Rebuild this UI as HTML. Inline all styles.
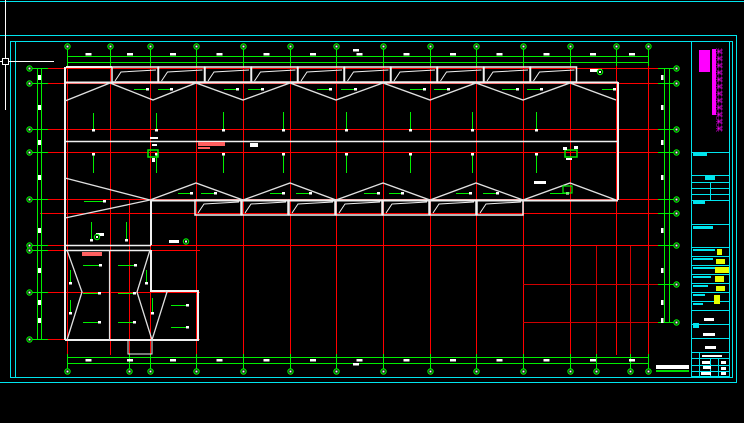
<!DOCTYPE html>
<html><head><meta charset="utf-8"><style>
html,body{margin:0;padding:0;background:#000;width:744px;height:423px;overflow:hidden}
svg{display:block}
text{font-family:"Liberation Sans","Noto Sans CJK SC",sans-serif}
</style></head><body>
<svg id="s" width="744" height="423" viewBox="0 0 744 423" xmlns="http://www.w3.org/2000/svg">
<rect width="744" height="423" fill="#000"/>
<g fill="none" stroke="#00e5ee" stroke-width="1">
<line x1="0" y1="1.5" x2="744" y2="1.5"/>
<polyline points="0,35.5 736.5,35.5 736.5,382.5 0,382.5"/>
<rect x="10.5" y="41.5" width="722" height="336"/>
<line x1="15.5" y1="41" x2="15.5" y2="378"/>
<rect x="691.5" y="41.5" width="38" height="335"/>
<line x1="692" y1="152.5" x2="729" y2="152.5"/>
<line x1="692" y1="175.5" x2="729" y2="175.5"/>
<line x1="692" y1="182.5" x2="729" y2="182.5"/>
<line x1="692" y1="188.5" x2="729" y2="188.5"/>
<line x1="692" y1="194.5" x2="729" y2="194.5"/>
<line x1="692" y1="200.5" x2="729" y2="200.5"/>
<line x1="710.5" y1="182" x2="710.5" y2="200"/>
<line x1="692" y1="224.5" x2="729" y2="224.5"/>
<line x1="692" y1="247.5" x2="729" y2="247.5"/>
<line x1="692" y1="256.5" x2="729" y2="256.5"/>
<line x1="692" y1="265.5" x2="729" y2="265.5"/>
<line x1="692" y1="274.5" x2="729" y2="274.5"/>
<line x1="692" y1="283.5" x2="729" y2="283.5"/>
<line x1="692" y1="292.5" x2="729" y2="292.5"/>
<line x1="692" y1="301.5" x2="729" y2="301.5"/>
<line x1="692" y1="310.5" x2="729" y2="310.5"/>
<line x1="692" y1="324.5" x2="729" y2="324.5"/>
<line x1="692" y1="338.5" x2="729" y2="338.5"/>
<line x1="692" y1="352.5" x2="729" y2="352.5"/>
<line x1="692" y1="358.5" x2="729" y2="358.5"/>
<line x1="692" y1="365.5" x2="729" y2="365.5"/>
<line x1="692" y1="371.5" x2="729" y2="371.5"/>
<line x1="699.5" y1="352" x2="699.5" y2="377"/>
<line x1="710.5" y1="358" x2="710.5" y2="377"/>
<line x1="718.5" y1="358" x2="718.5" y2="377"/>
</g>
<rect x="699" y="50" width="11" height="22" fill="#ff00ff"/>
<rect x="712" y="49" width="4" height="66" fill="#ff00ff"/>
<text x="0" y="0" fill="#ff00ff" font-size="7" transform="translate(717,48) rotate(90)">某某某某某某某某某某某某</text>
<g fill="#e6ff00">
<rect x="717" y="249" width="5" height="6"/><rect x="716" y="259" width="9" height="5"/>
<rect x="715" y="267" width="14" height="6"/><rect x="715" y="276" width="9" height="6"/>
<rect x="716" y="286" width="9" height="5"/><rect x="714" y="295" width="6" height="9"/>
</g>
<g fill="#00e5ee">
<rect x="693" y="153" width="14" height="3"/><rect x="705" y="176" width="10" height="4"/>
<rect x="693" y="201" width="12" height="3"/><rect x="693" y="226" width="20" height="3"/>
<rect x="693" y="249" width="22" height="2"/><rect x="693" y="258" width="20" height="2"/>
<rect x="693" y="267" width="22" height="2"/><rect x="693" y="276" width="18" height="2"/>
<rect x="693" y="285" width="15" height="2"/><rect x="693" y="294" width="12" height="2"/>
<rect x="693" y="303" width="10" height="2"/><rect x="693" y="323" width="6" height="5"/>
</g>
<g fill="#fff">
<rect x="704" y="318" width="10" height="3"/><rect x="703" y="333" width="12" height="3"/>
<rect x="705" y="346" width="11" height="3"/><rect x="702" y="355" width="20" height="2"/>
<rect x="702" y="361" width="8" height="3"/><rect x="721" y="361" width="5" height="3"/>
<rect x="703" y="366" width="8" height="3"/><rect x="721" y="367" width="5" height="3"/>
<rect x="701" y="372" width="10" height="3"/><rect x="721" y="372" width="5" height="3"/>
<rect x="656" y="365" width="33" height="4"/>
</g>
<rect x="656" y="370" width="33" height="2" fill="#00dd00"/>
<g stroke="#fff" stroke-width="1" fill="none">
<line x1="5.5" y1="0" x2="5.5" y2="110"/>
<line x1="0" y1="61.5" x2="54" y2="61.5"/>
<rect x="2.5" y="58.5" width="6" height="6" fill="#000"/>
</g>
<g id="dyn"></g>
</svg>
<script>
var g=document.getElementById('dyn'),h='';
function L(x1,y1,x2,y2,c,w){h+='<line x1="'+x1+'" y1="'+y1+'" x2="'+x2+'" y2="'+y2+'" stroke="'+c+'" stroke-width="'+(w||1)+'"/>';}
function P(pts,c,w){h+='<polyline points="'+pts+'" fill="none" stroke="'+c+'" stroke-width="'+(w||1)+'"/>';}
function R(x,y,w,hh,c){h+='<rect x="'+x+'" y="'+y+'" width="'+w+'" height="'+hh+'" fill="'+c+'"/>';}
function C(x,y){h+='<circle cx="'+x+'" cy="'+y+'" r="2.6" fill="#000" stroke="#00ee00" stroke-width="1.2"/><rect x="'+(x-1)+'" y="'+(y-1)+'" width="2" height="2" fill="#fff"/>';}
var RED='#ff0000',GR='#00ee00',WH='#f0f0f0',ZZ='#e0e0e0';
var topX=[67,110,150,196,243,290,336,383,430,476,523,570,616,648];
var botX=[67,129,150,196,243,290,336,383,430,476,523,570,596,630,648];
var rowsL=[68,83,129,152,199,245,250,292,339];
var rowsR=[68,83,129,152,199,213,245,284,322];
[67,110,150,196,243,290,336,383,430,476,523,570,616,648].forEach(function(x){L(x+.5,60,x+.5,355,RED);});
L(129.5,200,129.5,355,RED);L(596.5,245,596.5,355,'#d00000');L(630.5,245,630.5,355,'#d00000');
[68,83,129,152,199].forEach(function(y){L(40,y+.5,660,y+.5,RED);});
L(40,213.5,660,213.5,RED);L(40,245.5,660,245.5,RED);L(40,250.5,200,250.5,RED);
L(40,292.5,200,292.5,RED);L(40,339.5,200,339.5,RED);
L(523,284.5,660,284.5,'#d00000');L(523,322.5,660,322.5,'#d00000');
L(67,56.5,648,56.5,GR);L(67,62.5,648,62.5,GR);
L(67,357.5,648,357.5,GR);L(67,363.5,648,363.5,GR);
L(37.5,68,37.5,339,GR);L(41.5,68,41.5,339,GR);
L(664.5,68,664.5,322,GR);L(669.5,68,669.5,322,GR);
topX.forEach(function(x){L(x+.5,46,x+.5,66,GR);C(x+.5,46.5);});
botX.forEach(function(x){L(x+.5,354,x+.5,371,GR);C(x+.5,371.5);});
rowsL.forEach(function(y){L(29,y+.5,48,y+.5,GR);C(29.5,y+.5);});
rowsR.forEach(function(y){L(658,y+.5,676,y+.5,GR);C(676.5,y+.5);});
for(var i=0;i<topX.length-1;i++){var m=(topX[i]+topX[i+1])/2;R(m-3,53,6,2.5,'#fff');R(m-3,359,6,2.5,'#fff');}
R(353,49,6,2.5,'#fff');R(353,363,6,2.5,'#fff');
[75,105,140,175,228,268,300,318].forEach(function(y){R(38,y,3,5,'#fff');R(661,y,2.5,5,'#fff');});
var W=2;
P('66,67 112,67',WH,W);
for(var x=112;x<570;x+=46.5){h+='<rect x="'+x+'" y="67" width="46" height="15" fill="none" stroke="'+WH+'" stroke-width="1.5"/>';P((x+3)+',81 '+(x+9)+',72 '+(x+44)+',70',WH,1);}
L(65,82.5,618,82.5,WH,W);
L(65,67,65,340,WH,W);
L(618,82,618,200,WH,W);
L(65,141.5,618,141.5,WH,1.5);
L(150,200.5,618,200.5,WH,W);
for(var x=195;x<520;x+=47){h+='<rect x="'+x+'" y="200" width="46" height="15" fill="none" stroke="'+WH+'" stroke-width="1.5"/>';P((x+3)+',213 '+(x+9)+',204 '+(x+44)+',202',WH,1);}
L(151,200,151,245,WH,W);
L(65,245.5,151,245.5,WH,1.5);
L(65,250.5,151,250.5,WH,1.5);
P('151,250 151,291 198,291 198,340 65,340',WH,W);
h+='<rect x="128" y="340" width="24" height="14" fill="none" stroke="'+WH+'" stroke-width="1"/>';
var zt='65,101';
[110,153,196,243,290,336,383,430,476,523,570,616].forEach(function(x,i){zt+=' '+x+','+(i%2==0?83:100);});
P(zt,ZZ,1.3);
P('65,178 150,200 65,218',ZZ,1.3);
var zb='';[150,196,243,290,336,383,430,476,523,570,616].forEach(function(x,i){zb+=x+','+(i%2==0?200:183)+' ';});
P(zb,ZZ,1.3);
P('67,250 82,292 67,340',ZZ,1.3);P('150,250 137,292 152,340 167,292 165,291',ZZ,1.3);
L(109.5,250,109.5,340,ZZ,1.2);
[[93,113,93,130],[156,113,156,130],[223,112,223,130],[283,112,283,130],[346,112,346,130],[410,112,410,130],[472,112,472,130],[536,112,536,130],[93,155,93,173],[156,155,156,173],[223,155,223,173],[283,155,283,173],[346,155,346,173],[410,155,410,173],[472,155,472,173],[536,155,536,173],[91,222,91,240],[126,222,126,240],[70,270,70,283],[146,270,146,283],[70,300,70,313],[152,298,152,313]].forEach(function(a){L(a[0]+.5,a[1],a[2]+.5,a[3],GR,1);R(a[0]-1,(a[1]>150&&a[1]<200)?a[1]-2:a[3]-1,3,2.5,'#fff');});
[[134,89,147,89],[158,89,171,89],[224,89,237,89],[248,89,262,89],[317,89,330,89],[341,89,355,89],[410,89,424,89],[434,89,448,89],[502,89,517,89],[527,89,541,89],[602,89,614,89],[84,201,104,201],[178,193,191,193],[201,193,215,193],[270,193,283,193],[296,193,310,193],[364,193,378,193],[389,193,402,193],[456,193,470,193],[483,193,497,193],[550,193,567,193],[83,265,100,265],[118,265,135,265],[83,293,99,293],[118,293,134,293],[83,322,99,322],[118,322,134,322],[171,305,187,305],[171,327,187,327]].forEach(function(a){L(a[0],a[1]+.5,a[2],a[3]+.5,GR,1);R(a[2]-1,a[1]-1,3,2.5,'#fff');});
h+='<rect x="148" y="150" width="10" height="7" fill="none" stroke="'+GR+'" stroke-width="1.5"/>';R(150,137,8,2,'#fff');R(152,144,5,2,'#fff');R(152,158,3,4,'#fff');
h+='<rect x="565" y="150" width="12" height="7" fill="none" stroke="'+GR+'" stroke-width="1.5"/>';R(563,147,4,3,'#fff');R(574,146,4,3,'#fff');R(566,158,6,2,'#fff');
h+='<rect x="563" y="186" width="9" height="7" fill="none" stroke="'+GR+'" stroke-width="1.2"/>';R(534,181,12,3,'#fff');
R(198,142,27,4,'#ff6060');R(198,147,12,2,'#ff6060');R(82,252,20,4,'#ff6060');
R(250,143,8,4,'#fff');R(96,233,8,3,'#fff');R(169,240,10,3,'#fff');R(590,69,12,3,'#fff');
C(186,241.5);C(600,72);C(97,237);
g.innerHTML=h;
</script>
</body></html>
